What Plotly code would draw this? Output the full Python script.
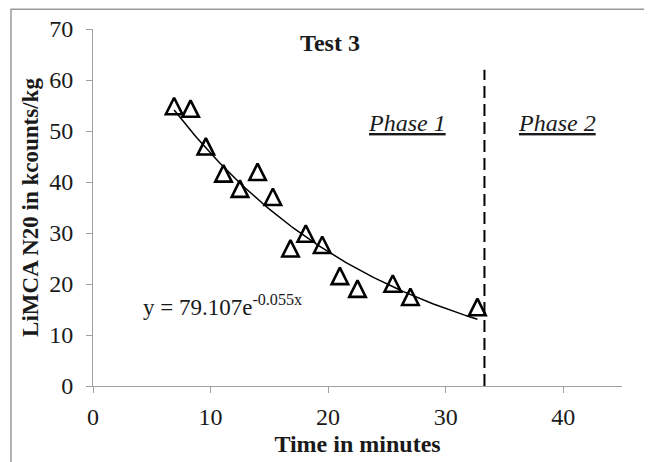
import numpy as np
import plotly.graph_objects as go

# ---- data ----
time_min = [6.9, 8.3, 9.6, 11.1, 12.5, 14.0, 15.3, 16.8, 18.1, 19.5, 21.0, 22.5, 25.5, 27.0, 32.7]
limca_n20 = [54.9, 54.4, 47.0, 41.7, 38.7, 42.0, 37.1, 27.0, 29.9, 27.7, 21.6, 19.1, 20.1, 17.5, 15.5]

fit_a = 79.107
fit_k = -0.055
phase_boundary = 33.3
phase_line_top = 62

x_ticks = [0, 10, 20, 30, 40]
y_ticks = [0, 10, 20, 30, 40, 50, 60, 70]

# ---- layout constants (page body adds an 8px offset) ----
W, H = 652, 462
OFF = 8
M_L, M_R, M_T, M_B = 93 - OFF, 30 + OFF, 29 - OFF, 76 + OFF
Y_MAX = 70
X_MAX = 45
MARKER_SIZE = 16.5

FONT = "Liberation Serif, Times New Roman, serif"
GRAY = "#a0a0a0"
TXT = "#1a1a1a"

plot_h = H - M_T - M_B
plot_w = W - M_L - M_R
px_per_unit = plot_h / Y_MAX
# arrow-up symbol hangs below its anchor point; lift anchor by half its height
lift = (MARKER_SIZE / 2) / px_per_unit
marker_y = [v + lift for v in limca_n20]

fit_x = np.linspace(min(time_min), max(time_min), 120)
fit_y = fit_a * np.exp(fit_k * fit_x)

fig = go.Figure()

fig.add_trace(go.Scatter(
    x=time_min, y=marker_y, mode="markers",
    marker=dict(symbol="arrow-up", size=MARKER_SIZE, color="rgba(0,0,0,0)",
                line=dict(color="black", width=2.6)),
    showlegend=False, hoverinfo="skip",
))

fig.add_trace(go.Scatter(
    x=fit_x, y=fit_y, mode="lines",
    line=dict(color="black", width=1.5),
    showlegend=False, hoverinfo="skip",
))

fig.add_trace(go.Scatter(
    x=[phase_boundary, phase_boundary], y=[0, phase_line_top], mode="lines",
    line=dict(color="black", width=2, dash="12px,6px"),
    showlegend=False, hoverinfo="skip",
))

# outer chart border (screen px -> figure px -> paper)
def px_to_paper_x(px):
    return (px - OFF - M_L) / plot_w

def px_to_paper_y(py):
    return (H - M_B - (py - OFF)) / plot_h

fig.add_shape(type="rect", xref="paper", yref="paper",
              x0=px_to_paper_x(11), x1=px_to_paper_x(649),
              y0=px_to_paper_y(480), y1=(H - M_B - 1.2) / plot_h,
              line=dict(color="#9a9a9a", width=1.5), layer="below")

fig.add_annotation(x=4.1, y=15.8, xref="x", yref="y", xanchor="left", yanchor="middle",
                   text="y = 79.107e<sup>-0.055x</sup>", showarrow=False,
                   font=dict(family=FONT, size=23, color=TXT))
fig.add_annotation(x=26.7, y=51.5, xref="x", yref="y", xanchor="center", yanchor="middle",
                   text="<i><u>Phase 1</u></i>", showarrow=False,
                   font=dict(family=FONT, size=24, color=TXT))
fig.add_annotation(x=39.5, y=51.5, xref="x", yref="y", xanchor="center", yanchor="middle",
                   text="<i><u>Phase 2</u></i>", showarrow=False,
                   font=dict(family=FONT, size=24, color=TXT))

fig.update_layout(
    width=W, height=H,
    margin=dict(l=M_L, r=M_R, t=M_T, b=M_B, autoexpand=False),
    paper_bgcolor="white", plot_bgcolor="white",
    font=dict(family=FONT, size=24, color=TXT),
    title=dict(text="<b>Test 3</b>", x=(330 - OFF) / W, xanchor="center",
               y=1 - (43 - OFF) / H, yanchor="middle",
               font=dict(family=FONT, size=24, color=TXT)),
    xaxis=dict(range=[0, X_MAX], tickvals=x_ticks, ticktext=[str(v) for v in x_ticks],
               showline=True, linecolor=GRAY, linewidth=1,
               ticks="outside", ticklen=6, tickcolor=GRAY, tickwidth=1,
               showgrid=False, zeroline=False, ticklabelstandoff=3, automargin=False,
               tickfont=dict(family=FONT, size=24, color=TXT),
               title=dict(text="<b>Time in minutes</b>", standoff=6,
                          font=dict(family=FONT, size=24, color=TXT))),
    yaxis=dict(range=[0, Y_MAX], tickvals=y_ticks, ticktext=[str(v) for v in y_ticks],
               showline=True, linecolor=GRAY, linewidth=1,
               ticks="outside", ticklen=6, tickcolor=GRAY, tickwidth=1,
               showgrid=False, zeroline=False, ticklabelstandoff=8, automargin=False,
               tickfont=dict(family=FONT, size=24, color=TXT),
               title=dict(text="<b>LiMCA N20 in kcounts/kg</b>", standoff=4,
                          font=dict(family=FONT, size=23, color=TXT))),
)

fig.write_html("out.html")
